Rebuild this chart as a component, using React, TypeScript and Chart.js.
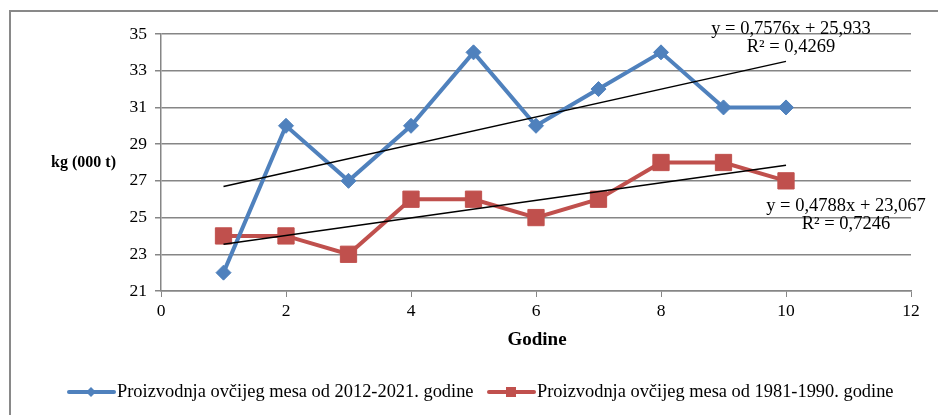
import React, { useEffect, useRef } from "react";
import { Chart, registerables } from "chart.js";

Chart.register(...registerables);

const years = [1, 2, 3, 4, 5, 6, 7, 8, 9, 10];
const series2012 = [22, 30, 27, 30, 34, 30, 32, 34, 31, 31];
const series1981 = [24, 24, 23, 26, 26, 25, 26, 28, 28, 27];
const trend2012 = { slope: 0.7576, intercept: 25.933, r2: "0,4269", eq: "y = 0,7576x + 25,933" };
const trend1981 = { slope: 0.4788, intercept: 23.067, r2: "0,7246", eq: "y = 0,4788x + 23,067" };
const seriesNames = [
  "Proizvodnja ovčijeg mesa od 2012-2021. godine",
  "Proizvodnja ovčijeg mesa od 1981-1990. godine",
];
const xTitle = "Godine";
const yTitle = "kg (000 t)";

const BLUE = "#4F81BD";
const RED = "#C0504D";
const GRID = "#868686";
const FONT = "'Liberation Serif', 'Times New Roman', serif";

const trendPoints = (t: { slope: number; intercept: number }) => [
  { x: years[0], y: t.slope * years[0] + t.intercept },
  { x: years[years.length - 1], y: t.slope * years[years.length - 1] + t.intercept },
];

const decorPlugin = {
  id: "decor",
  beforeDraw(chart: any) {
    const ctx = chart.ctx;
    ctx.save();
    ctx.fillStyle = "#fff";
    ctx.fillRect(0, 0, chart.width, chart.height);
    ctx.strokeStyle = "#898989";
    ctx.lineWidth = 2;
    ctx.beginPath();
    ctx.moveTo(10, chart.height);
    ctx.lineTo(10, 11);
    ctx.lineTo(chart.width, 11);
    ctx.stroke();
    ctx.restore();
  },
  afterDraw(chart: any) {
    const ctx = chart.ctx;
    ctx.save();
    ctx.fillStyle = "#000";
    // axis titles
    ctx.font = `bold 16px ${FONT}`;
    ctx.textAlign = "right";
    ctx.textBaseline = "middle";
    ctx.fillText(yTitle, 116, 163);
    ctx.textAlign = "center";
    ctx.font = `bold 19px ${FONT}`;
    ctx.fillText(xTitle, 537, 340);
    // trend equations
    ctx.font = `18.5px ${FONT}`;
    ctx.textAlign = "center";
    ctx.fillText(trend2012.eq, 791, 29);
    ctx.fillText("R² = " + trend2012.r2, 791, 47);
    ctx.fillText(trend1981.eq, 846, 206);
    ctx.fillText("R² = " + trend1981.r2, 846, 224);
    // legend
    const items = [
      { x: 67, color: BLUE, style: "diamond", text: seriesNames[0] },
      { x: 487, color: RED, style: "square", text: seriesNames[1] },
    ];
    const ly = 392;
    ctx.font = `18.4px ${FONT}`;
    ctx.textAlign = "left";
    for (const it of items) {
      ctx.strokeStyle = it.color;
      ctx.fillStyle = it.color;
      ctx.lineWidth = 4;
      ctx.lineCap = "round";
      ctx.beginPath();
      ctx.moveTo(it.x + 2, ly);
      ctx.lineTo(it.x + 47, ly);
      ctx.stroke();
      const cx = it.x + 24;
      ctx.beginPath();
      if (it.style === "diamond") {
        ctx.moveTo(cx - 5, ly);
        ctx.lineTo(cx, ly - 5);
        ctx.lineTo(cx + 5, ly);
        ctx.lineTo(cx, ly + 5);
        ctx.closePath();
      } else {
        ctx.rect(cx - 5, ly - 5, 10, 10);
      }
      ctx.fill();
      ctx.fillStyle = "#000";
      ctx.fillText(it.text, it.x + 50, ly);
    }
    ctx.restore();
  },
};

export default function App() {
  const ref = useRef<HTMLCanvasElement | null>(null);
  useEffect(() => {
    if (!ref.current) return;
    const chart = new Chart(ref.current, {
      type: "scatter",
      data: {
        datasets: [
          {
            label: "trend2012",
            data: trendPoints(trend2012),
            showLine: true,
            borderColor: "#000",
            borderWidth: 1.5,
            pointRadius: 0,
            order: 0,
          },
          {
            label: "trend1981",
            data: trendPoints(trend1981),
            showLine: true,
            borderColor: "#000",
            borderWidth: 1.5,
            pointRadius: 0,
            order: 0,
          },
          {
            label: seriesNames[0],
            data: years.map((x, i) => ({ x, y: series2012[i] })),
            showLine: true,
            borderColor: BLUE,
            backgroundColor: BLUE,
            borderWidth: 4,
            pointStyle: "rectRot",
            pointRadius: 7.5,
            pointBorderWidth: 1,
            order: 1,
          },
          {
            label: seriesNames[1],
            data: years.map((x, i) => ({ x, y: series1981[i] })),
            showLine: true,
            borderColor: RED,
            backgroundColor: RED,
            borderWidth: 4,
            pointStyle: "rect",
            pointRadius: 11.5,
            pointBorderWidth: 1,
            order: 2,
          },
        ],
      },
      options: {
        animation: false,
        responsive: false,
        maintainAspectRatio: false,
        devicePixelRatio: 1,
        layout: { padding: { left: 0, top: 34, right: 27, bottom: 94 } },
        plugins: { legend: { display: false }, tooltip: { enabled: false } },
        scales: {
          x: {
            type: "linear",
            min: 0,
            max: 12,
            ticks: { stepSize: 2, color: "#000", font: { family: FONT, size: 17.5 }, padding: 4 },
            grid: { drawOnChartArea: false, drawTicks: true, tickLength: 6, color: GRID, lineWidth: 1 },
            border: { color: GRID, width: 1.5 },
            afterFit: (s: any) => { s.height = 30; },
          },
          y: {
            type: "linear",
            min: 21,
            max: 35,
            ticks: { stepSize: 2, color: "#000", font: { family: FONT, size: 17.5 }, padding: 8 },
            grid: { color: GRID, lineWidth: 1.5, tickLength: 6 },
            border: { color: GRID, width: 1.5 },
            afterFit: (s: any) => { s.width = 161; },
          },
        },
      },
      plugins: [decorPlugin],
    } as any);
    return () => chart.destroy();
  }, []);
  return (
    <div style={{ position: "fixed", left: 0, top: 0, width: 938, height: 415, background: "#fff" }}>
      <canvas ref={ref} width={938} height={415} style={{ width: 938, height: 415, display: "block" }} />
    </div>
  );
}
